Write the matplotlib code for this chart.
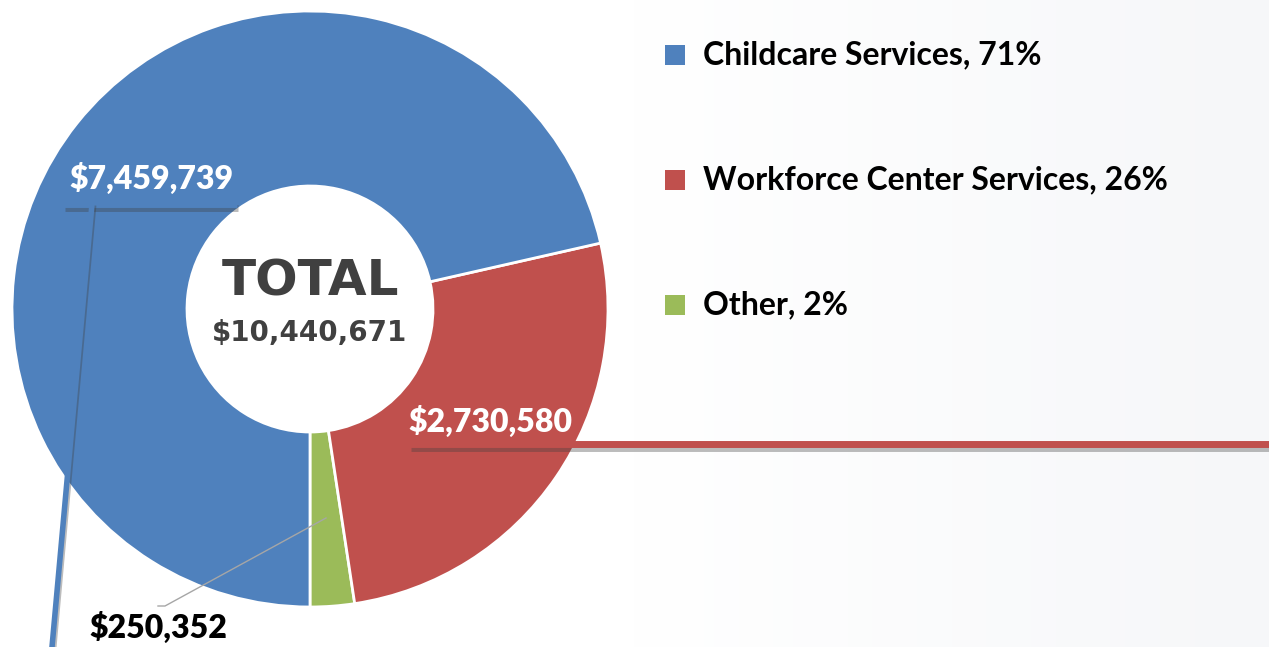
import numpy as np
import matplotlib.pyplot as plt
import matplotlib.patheffects as pe
from matplotlib.colors import LinearSegmentedColormap

# data -------------------------------------------------------
categories = ["Childcare Services", "Workforce Center Services", "Other"]
amounts = [7459739, 2730580, 250352]
percents = [71, 26, 2]
colors = ["#4F81BD", "#C0504D", "#9BBB59"]
total = 10440671

W, H = 1269, 647
fig = plt.figure(figsize=(W / 100, H / 100), dpi=100)
ax = fig.add_axes([0, 0, 1, 1])

# faint background gradient
grad = np.linspace(0, 1, 256)[None, :]
ax.imshow(grad, extent=[0, W, 0, H], aspect="auto", zorder=0,
          cmap=LinearSegmentedColormap.from_list("bg", ["#ffffff", "#ffffff", "#f6f7f9"]))

# donut, drawn counter clockwise from the bottom: Other, Workforce, Childcare
cx, cy, r = 310, H - 309, 298
order = [2, 1, 0]
wedges, _ = ax.pie([amounts[i] for i in order], colors=[colors[i] for i in order],
                   startangle=270, counterclock=True, radius=r, center=(cx, cy),
                   wedgeprops=dict(width=175, edgecolor="white", linewidth=2))
for w in wedges:
    w.set_zorder(2)

ax.set_xlim(0, W)
ax.set_ylim(0, H)
ax.set_aspect("auto")
ax.axis("off")

lab = dict(family="Lato", fontweight="heavy", fontsize=23)
shadow = [pe.SimpleLineShadow(offset=(1, -3), shadow_color="#404040", alpha=0.35), pe.Normal()]

# childcare label + leader
ax.text(151, H - 178, f"${amounts[0]:,}", color="white", ha="center", va="center", zorder=5, **lab)
ax.plot([64, 237], [H - 204, H - 204], color=colors[0], lw=5, solid_capstyle="butt",
        path_effects=shadow, zorder=4)
ax.plot([92, 52], [H - 204, 0], color=colors[0], lw=4, path_effects=shadow, zorder=4)

# workforce label + leader
ax.text(490, H - 421, f"${amounts[1]:,}", color="white", ha="center", va="center", zorder=5, **lab)
ax.plot([410, W], [H - 444, H - 444], color=colors[1], lw=5, solid_capstyle="butt",
        path_effects=shadow, zorder=4)

# other label + leader
ax.text(158, H - 627, f"${amounts[2]:,}", color="black", ha="center", va="center", zorder=5, **lab)
ax.plot([158, 165, 326], [H - 606, H - 606, H - 518], color="#a6a6a6", lw=1, zorder=4)

# centre text
ax.text(cx, H - 281, "TOTAL", color="#404040", fontsize=36, fontweight="heavy",
        ha="center", va="center", zorder=5)
ax.text(cx, H - 333, f"${total:,}", color="#404040", fontsize=20, fontweight="bold",
        ha="center", va="center", zorder=5)

# legend
for i, (name, pct) in enumerate(zip(categories, percents)):
    y = H - (55 + 125 * i)
    ax.scatter([675], [y], marker="s", s=200, color=colors[i], zorder=5, linewidths=0)
    ax.text(703, y, f"{name}, {pct}%", family="Lato", fontweight="bold", fontsize=23,
            color="black", ha="left", va="center", zorder=5)

fig.savefig("out.png", dpi=100)
